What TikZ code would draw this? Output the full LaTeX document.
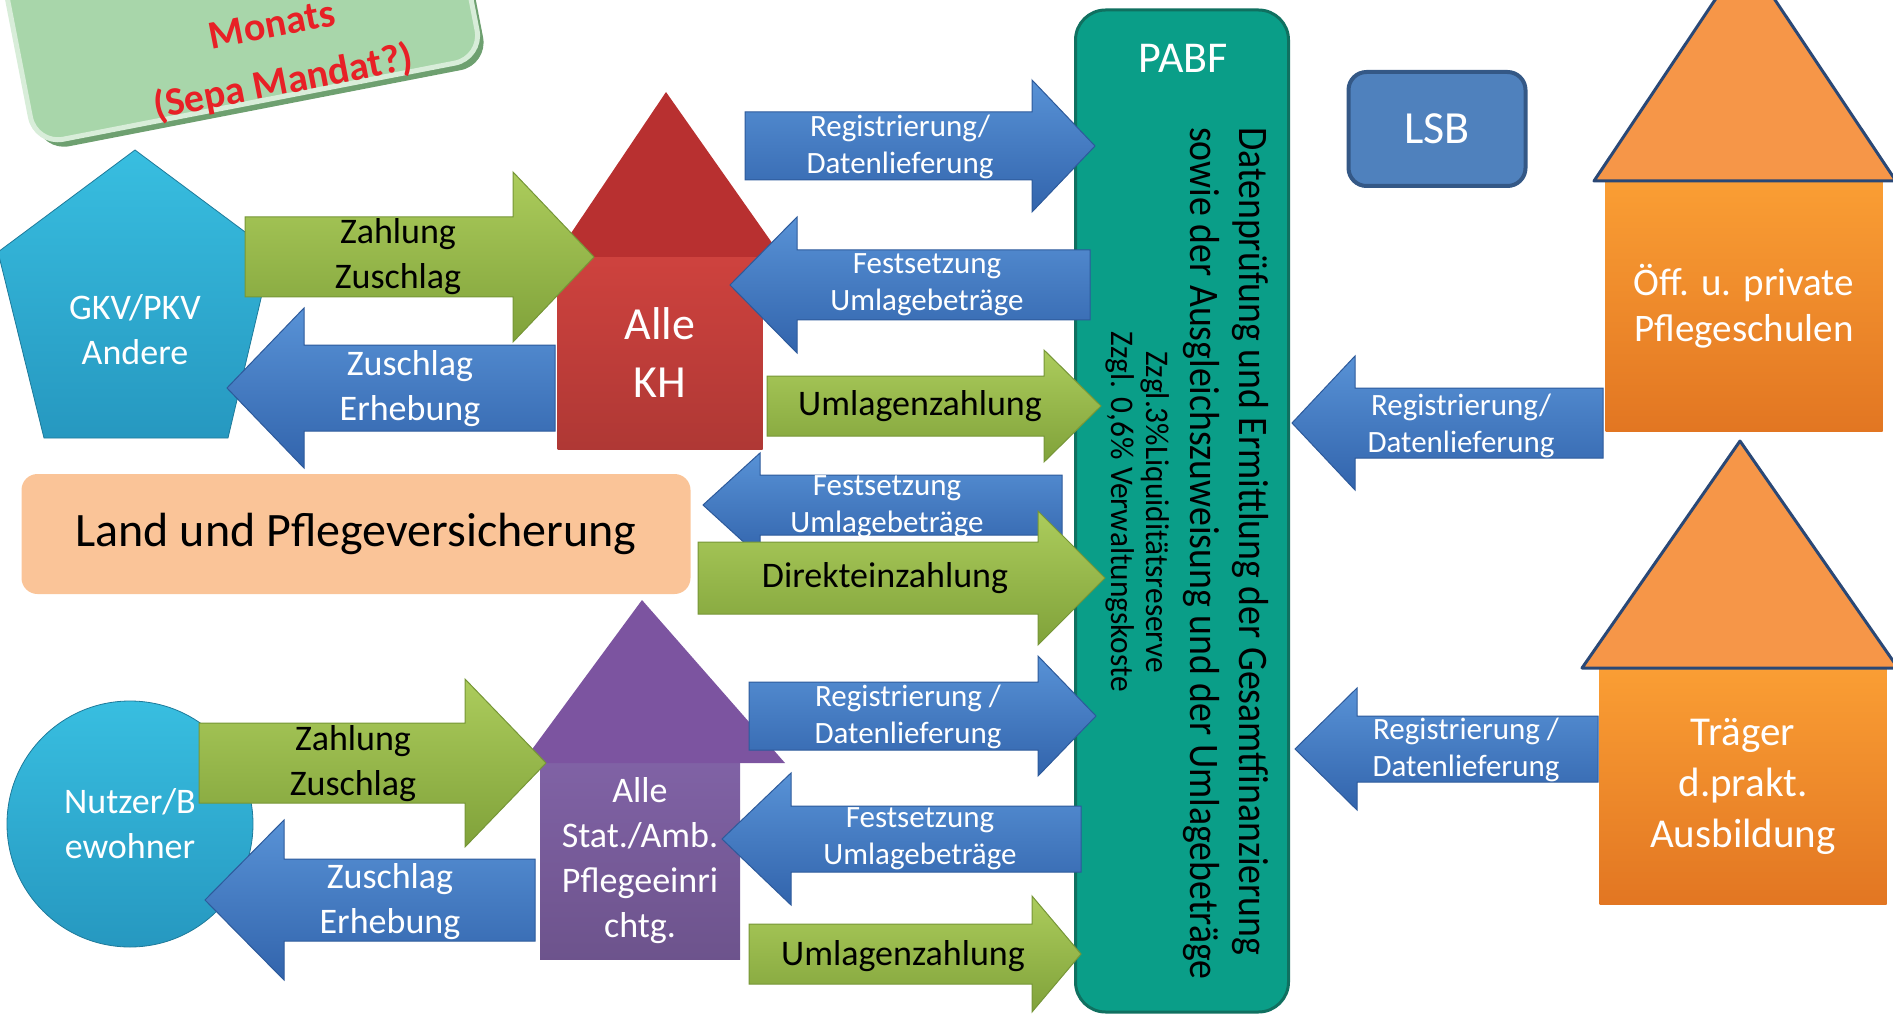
\documentclass[tikz,border=0pt]{standalone}
\usepackage{fontspec}
\setmainfont{Carlito}
\newfontfamily\narrowfont{Carlito}[FakeStretch=0.9]
\newfontfamily\midfont{Carlito}[FakeStretch=0.95]
\usepackage{tikz}
\usetikzlibrary{positioning}
\definecolor{grnA}{RGB}{172,204,92}
\definecolor{grnB}{RGB}{128,162,58}
\definecolor{grnC}{RGB}{118,150,55}
\definecolor{bluA}{RGB}{88,146,214}
\definecolor{bluB}{RGB}{50,100,172}
\definecolor{bluC}{RGB}{45,90,155}
\definecolor{cyanA}{RGB}{56,190,224}
\definecolor{cyanB}{RGB}{38,152,192}
\definecolor{redroof}{RGB}{184,48,48}
\definecolor{redbody}{RGB}{206,66,62}
\definecolor{lila}{RGB}{124,84,160}
\definecolor{lilabody}{RGB}{128,98,165}
\definecolor{orA}{RGB}{250,158,52}
\definecolor{orB}{RGB}{226,118,34}
\definecolor{orroof}{RGB}{246,150,72}
\definecolor{roofline}{RGB}{42,72,118}
\definecolor{pabf}{RGB}{10,158,136}
\definecolor{pabfline}{RGB}{16,112,96}
\definecolor{lsbfill}{RGB}{79,129,189}
\definecolor{lsbline}{RGB}{52,88,134}
\definecolor{peach}{RGB}{250,196,152}
\definecolor{sepa}{RGB}{168,214,170}
\definecolor{sepaline}{RGB}{110,160,112}
\definecolor{separed}{RGB}{232,32,38}

\newcommand{\rarrow}[7]{\path[#1] (#2,{#5-#6}) -- (#3,{#5-#6}) -- (#3,{#5-#7}) -- (#4,#5) -- (#3,{#5+#7}) -- (#3,{#5+#6}) -- (#2,{#5+#6}) -- cycle;}
\newcommand{\larrow}[7]{\path[#1] (#2,#5) -- (#3,{#5-#7}) -- (#3,{#5-#6}) -- (#4,{#5-#6}) -- (#4,{#5+#6}) -- (#3,{#5+#6}) -- (#3,{#5+#7}) -- cycle;}

\begin{document}
\begin{tikzpicture}[x=1pt,y=-1pt,
  greenarr/.style={top color=grnA,bottom color=grnB,draw=grnC,line width=1pt},
  bluearr/.style={top color=bluA,bottom color=bluB,draw=bluC,line width=1pt},
  darklbl/.style={align=center,text=black,inner sep=0pt,font={\fontsize{36}{45}\selectfont}},
  lightlbl/.style={align=center,text=white,inner sep=0pt,font={\fontsize{36}{45}\selectfont}},
  smalllbl/.style={align=center,text=white,inner sep=0pt,font={\fontsize{31}{37}\selectfont}},
  housetxt/.style={align=center,text=white,inner sep=0pt,font={\fontsize{39}{46}\selectfont}}]
  \useasboundingbox (0,0) rectangle (1893,1016);
  \clip (0,0) rectangle (1893,1016);

  \node[rotate=11,fill=sepaline,minimum width=455pt,minimum height=200pt,rounded corners=28pt] (sepashadow) at (246,10) {};
  \node[rotate=11,fill=sepa,draw=white!55!sepa,line width=5pt,minimum width=455pt,minimum height=200pt,rounded corners=28pt] (sepa) at (240,3) {};
  \node[rotate=11,text=separed,align=center,font={\bfseries\fontsize{40}{58}\selectfont}] (monat) at (278,56) {Monats\\(Sepa Mandat?)};

  \path[top color=cyanA,bottom color=cyanB,draw=cyanB!80!black,line width=0.8pt] (135,150) -- (272,252) -- (228,438) -- (44,438) -- (-2,252) -- cycle;
  \node[lightlbl] (gkv) at (135,330) {GKV/PKV\\Andere};
  \node[lightlbl,circle,minimum size=246pt,top color=cyanA,bottom color=cyanB,draw=cyanB!80!black,line width=0.8pt] (nutzer) at (130,824) {Nutzer/B\\ewohner};

  \node[lightlbl,top color=redbody,bottom color=redbody!85!black,minimum width=205pt,minimum height=193pt,font={\fontsize{46}{58}\selectfont}] (kh) at (660,353) {Alle\\KH};
  \path[fill=redroof] (666,92) -- (782,257) -- (555,257) -- cycle;
  \node[lightlbl,top color=lilabody,bottom color=lilabody!85!black,minimum width=200pt,minimum height=197pt] (pflege) at (640,861) {Alle\\Stat./Amb.\\Pflegeeinri\\chtg.};
  \path[fill=lila] (642,600) -- (785,763) -- (522,763) -- cycle;

  \node[housetxt,top color=orA,bottom color=orB,minimum width=277pt,minimum height=251pt] (schule) at (1744,306) {Öff. u. private\\Pflegeschulen};
  \path[fill=orroof,draw=roofline,line width=3pt,line join=round] (1745,-45) -- (1896,181) -- (1594,181) -- cycle;
  \node[housetxt,top color=orA,bottom color=orB,minimum width=287pt,minimum height=237pt,font={\fontsize{41}{51}\selectfont}] (traeger) at (1743,786) {Träger\\d.prakt.\\Ausbildung};
  \path[fill=orroof,draw=roofline,line width=3pt,line join=round] (1740,441) -- (1898,668) -- (1582,668) -- cycle;

  \node[fill=pabf,draw=pabfline,line width=3pt,rounded corners=30pt,minimum width=213pt,minimum height=1002pt] (pabf) at (1182,511) {};
  \node[text=white,font={\fontsize{44}{50}\selectfont}] (pabftitle) at (1183,58) {PABF};
  \node[rotate=-90,anchor=west,inner sep=0pt,align=left,font={\narrowfont\fontsize{42}{49}\selectfont}] (pabftxt) at (1226,127) {Datenprüfung und Ermittlung der Gesamtfinanzierung\\sowie der Ausgleichszuweisung und der Umlagebeträge};
  \node[rotate=-90,align=center,font={\midfont\fontsize{33}{35}\selectfont}] (zzgl) at (1138,512) {Zzgl.3\%Liquiditätsreserve\\Zzgl. 0,6\% Verwaltungskoste};

  \node[fill=lsbfill,draw=lsbline,line width=4pt,rounded corners=18pt,minimum width=177pt,minimum height=114pt,text=white,font={\fontsize{46}{52}\selectfont}] (lsb) at (1437,129) {LSB};
  \node[fill=peach,rounded corners=16pt,minimum width=669pt,minimum height=120pt,font={\fontsize{48}{55}\selectfont}] (land) at (356,534) {Land und Pflegeversicherung};

  \rarrow{greenarr}{245}{513}{594}{257}{40}{85}
  \node[darklbl] (zahlkh) at (398,257) {Zahlung\\Zuschlag};
  \larrow{bluearr}{227}{304}{555}{388}{43}{80}
  \node[lightlbl] (erhebkh) at (410,389) {Zuschlag\\Erhebung};
  \rarrow{bluearr}{745}{1032}{1095}{146}{34}{66}
  \node[smalllbl] (regkh) at (900,147) {Registrierung/\\Datenlieferung};
  \larrow{bluearr}{730}{797}{1090}{285}{35}{68}
  \node[smalllbl] (festkh) at (927,285) {Festsetzung\\Umlagebeträge};
  \rarrow{greenarr}{767}{1044}{1101}{406}{30}{56}
  \node[darklbl] (umlkh) at (920,406) {Umlagenzahlung};
  \larrow{bluearr}{703}{760}{1062}{505}{30}{52}
  \node[smalllbl] (festland) at (887,507) {Festsetzung\\Umlagebeträge};
  \rarrow{greenarr}{698}{1038}{1105}{578}{36}{67}
  \node[darklbl] (direkt) at (885,578) {Direkteinzahlung};

  \rarrow{greenarr}{199}{465}{546}{763}{40}{84}
  \node[darklbl] (zahlpf) at (353,764) {Zahlung\\Zuschlag};
  \larrow{bluearr}{205}{284}{535}{900}{41}{80}
  \node[lightlbl] (erhebpf) at (390,902) {Zuschlag\\Erhebung};
  \rarrow{bluearr}{749}{1038}{1096}{716}{34}{60}
  \node[smalllbl] (regpf) at (908,717) {Registrierung /\\Datenlieferung};
  \larrow{bluearr}{722}{791}{1081}{839}{33}{66}
  \node[smalllbl] (festpf) at (920,839) {Festsetzung\\Umlagebeträge};
  \rarrow{greenarr}{749}{1032}{1081}{954}{30}{58}
  \node[darklbl] (umlpf) at (903,956) {Umlagenzahlung};

  \larrow{bluearr}{1292}{1355}{1603}{423}{35}{67}
  \node[smalllbl] (regschule) at (1461,426) {Registrierung/\\Datenlieferung};
  \larrow{bluearr}{1295}{1357}{1598}{749}{33}{61}
  \node[smalllbl] (regtraeger) at (1466,750) {Registrierung /\\Datenlieferung};
\end{tikzpicture}
\end{document}
